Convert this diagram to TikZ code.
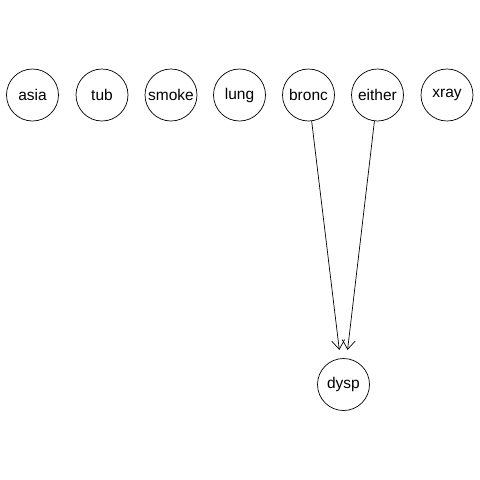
\documentclass[tikz,border=0pt]{standalone}
\usepackage{fontspec}
\setmainfont{Liberation Sans}
\usetikzlibrary{arrows.meta}
\begin{document}
\begin{tikzpicture}[x=1pt,y=-1pt,
  var/.style={draw, circle, line width=0.7pt, minimum size=52pt, inner sep=0pt, font=\fontsize{15.5}{18}\selectfont},
  edge/.style={line width=0.7pt, -{Straight Barb[length=9pt,width=13pt]}, shorten >=8.5pt}]
\useasboundingbox (0,0) rectangle (480,480);
\node[var] (asia) at (32.5,95) {asia};
\node[var] (tub) at (102,95) {tub};
\node[var] (smoke) at (171,95) {smoke};
\node[var] (lung) at (239.5,95) {lung};
\node[var] (bronc) at (308.5,95) {bronc};
\node[var] (either) at (377.5,95) {either};
\node[var] (xray) at (447,95) {xray};
\node[var] (dysp) at (343.5,384.5) {dysp};
\draw[edge] (bronc) -- (dysp);
\draw[edge] (either) -- (dysp);
\end{tikzpicture}
\end{document}
